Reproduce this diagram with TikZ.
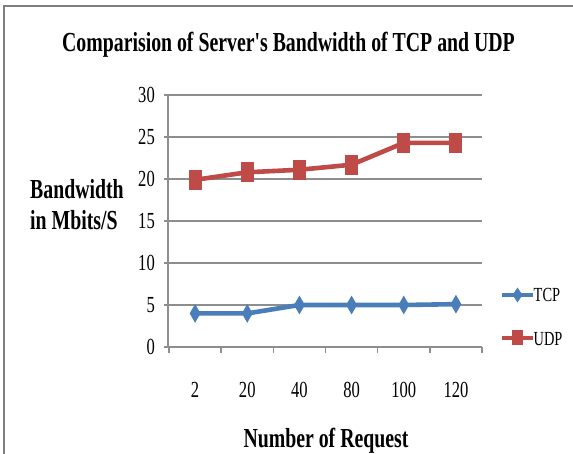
\documentclass[tikz,border=0pt]{standalone}
\usepackage{fontspec}
\setmainfont{Liberation Serif}
\newfontfamily\narrowfont[FakeStretch=0.72]{Liberation Serif}
\usetikzlibrary{shapes.geometric}
\definecolor{tcpblue}{HTML}{4A7EBB}
\definecolor{udpred}{HTML}{BE4B48}
\definecolor{gridgray}{HTML}{8E8E8E}
\definecolor{framegray}{HTML}{7F7F7F}
\begin{document}
\begin{tikzpicture}[x=1pt,y=-1pt,
  heading/.style={inner sep=0pt, font=\narrowfont\bfseries\fontsize{27.5}{29}\selectfont},
  ticklabel/.style={inner sep=0pt, font=\narrowfont\fontsize{23}{25}\selectfont},
  legendlabel/.style={inner sep=0pt, font=\narrowfont\fontsize{20}{22}\selectfont},
  gridline/.style={draw=gridgray, line width=1.4pt},
  series/.style={line width=4.6pt, line join=round},
  tcpmark/.style={diamond, fill=tcpblue, inner sep=0pt, minimum width=11pt, minimum height=19pt},
  udpmark/.style={rectangle, fill=udpred, inner sep=0pt, minimum width=13pt, minimum height=20pt},
  tcplegmark/.style={diamond, fill=tcpblue, inner sep=0pt, minimum width=10pt, minimum height=15pt},
  udplegmark/.style={rectangle, fill=udpred, inner sep=0pt, minimum width=11pt, minimum height=15pt}]
\useasboundingbox (0,0) rectangle (573,454);
\fill[white] (0,0) rectangle (573,454);

% frame
\draw[framegray, line width=1.3pt] (4,454) -- (4,6) -- (573,6);

% title
\node[heading, anchor=base] (title) at (288.5,52) {Comparision of Server's Bandwidth of TCP and UDP};

% horizontal grid lines and value labels
\foreach \v in {0,5,...,30}{
  \draw[gridline] (164,{347-8.4*\v}) -- (482,{347-8.4*\v});
  \node[ticklabel, anchor=base east] (yl\v) at (155,{354.5-8.4*\v}) {\v};
}
% axes
\draw[gridline] (168,95) -- (168,347);
\foreach \k in {0,...,6}{
  \draw[gridline] ({169+52.17*\k},347) -- ({169+52.17*\k},353);
}

% category labels
\foreach \lab [count=\i] in {2,20,40,80,100,120}{
  \node[ticklabel, anchor=base] (xl\i) at ({169+52.17*(\i-0.5)},397.5) {\lab};
}

% axis titles
\node[heading, anchor=base west] (ytitle1) at (30,199) {Bandwidth};
\node[heading, anchor=base west] (ytitle2) at (30,230) {in Mbits/S};
\node[heading, anchor=base] (xtitle) at (326,447) {Number of Request};

% data points
\foreach \val [count=\i] in {4.0,4.0,5.0,5.0,5.0,5.1}{
  \coordinate (t\i) at ({169+52.17*(\i-0.5)},{347-8.4*\val});
}
\foreach \val [count=\i] in {19.9,20.8,21.1,21.7,24.3,24.3}{
  \coordinate (u\i) at ({169+52.17*(\i-0.5)},{347-8.4*\val});
}

% series lines
\draw[series, tcpblue] (t1) -- (t2) -- (t3) -- (t4) -- (t5) -- (t6);
\draw[series, udpred] (u1) -- (u2) -- (u3) -- (u4) -- (u5) -- (u6);

% markers
\foreach \i in {1,...,6}{
  \node[tcpmark] (tm\i) at (t\i) {};
  \node[udpmark] (um\i) at (u\i) {};
}

% legend
\coordinate (lt1) at (502,295);
\coordinate (lt2) at (533,295);
\draw[series, tcpblue] (lt1) -- (lt2);
\node[tcplegmark] (ltm) at (517.5,295) {};
\node[legendlabel, anchor=base west] (ltcp) at (533.5,302) {TCP};

\coordinate (lu1) at (502,338);
\coordinate (lu2) at (533,338);
\draw[series, udpred] (lu1) -- (lu2);
\node[udplegmark] (lum) at (517.5,338) {};
\node[legendlabel, anchor=base west] (ludp) at (533.5,345) {UDP};
\end{tikzpicture}
\end{document}
